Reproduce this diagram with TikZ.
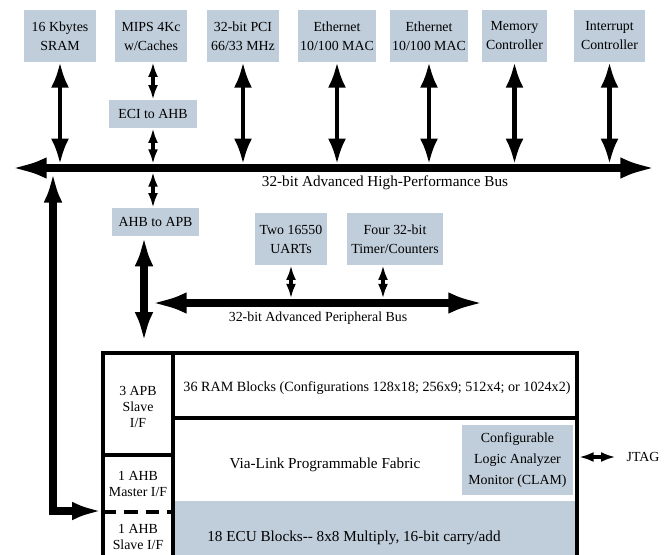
\documentclass[tikz,border=0pt]{standalone}
\usepackage{fontspec}
\setmainfont{Liberation Serif}
\usetikzlibrary{positioning,arrows.meta}
\definecolor{boxgray}{RGB}{192,205,218}

\begin{document}
\begin{tikzpicture}[x=0.75pt,y=-0.75pt,
  blk/.style={fill=boxgray,inner sep=0pt,align=center,font=\fontsize{10.4}{14.25}\selectfont},
  lbl/.style={inner sep=0pt,align=center,font=\fontsize{10.4}{12}\selectfont},
  biglbl/.style={inner sep=0pt,font=\fontsize{11.4}{13}\selectfont},
  busline/.style={line width=6.4pt,{Latex[length=27.5pt,width=16pt]}-{Latex[length=27.5pt,width=16pt]}},
  droparr/.style={line width=5.6pt,{Latex[length=22.5pt,width=14pt]}-{Latex[length=22.5pt,width=14pt]}},
  midarr/.style={line width=3.2pt,{Latex[length=19pt,width=13.5pt]}-{Latex[length=19pt,width=13.5pt]}},
  smallarr/.style={line width=2.3pt,{Latex[length=11pt,width=7.5pt]}-{Latex[length=11pt,width=7.5pt]}}]
  \clip (0,0) rectangle (671,554);
  \def\bh{39pt}
  % top row of blocks
  \node[blk,minimum width=54pt,minimum height=\bh] (sram) at (60,36) {16 Kbytes\\SRAM};
  \node[blk,minimum width=54pt,minimum height=\bh] (mips) at (151,36) {MIPS 4Kc\\w/Caches};
  \node[blk,minimum width=54pt,minimum height=\bh] (pci) at (243,36) {32-bit PCI\\66/33 MHz};
  \node[blk,minimum width=59pt,minimum height=\bh] (eth1) at (337,36) {Ethernet\\10/100 MAC};
  \node[blk,minimum width=59pt,minimum height=\bh] (eth2) at (429,36) {Ethernet\\10/100 MAC};
  \node[blk,minimum width=48.75pt,minimum height=\bh] (memc) at (514.5,36) {Memory\\Controller};
  \node[blk,minimum width=53.25pt,minimum height=\bh] (intc) at (609.5,36) {Interrupt\\Controller};
  \node[blk,minimum width=66pt,minimum height=21pt] (eci) at (153,114) {ECI to AHB};
  \node[blk,minimum width=65.25pt,minimum height=21pt] (a2p) at (155.5,222) {AHB to APB};
  \node[blk,minimum width=54pt,minimum height=\bh] (uart) at (291,239) {Two 16550\\UARTs};
  \node[blk,minimum width=72pt,minimum height=\bh] (timer) at (395,239) {Four 32-bit\\Timer/Counters};

  % AHB
  \coordinate (ahbL) at (10,168); \coordinate (ahbR) at (657,168);
  \coordinate (ahbT) at (0,164); \coordinate (ahbB) at (0,172);
  \draw[busline] (ahbL) -- (ahbR);
  \node[biglbl] (ahblbl) at (385,183) {32-bit Advanced High-Performance Bus};
  \foreach \n in {sram,pci,eth1,eth2,memc,intc}
    \draw[midarr] (\n.south) -- (\n.south |- ahbT);
  \draw[smallarr] (mips.south -| eci) -- (eci.north);
  \draw[smallarr] (eci.south) -- (eci.south |- ahbT);
  \draw[smallarr] (eci.south |- ahbB) -- (eci.south |- a2p.north);

  % APB
  \coordinate (apbL) at (150,303); \coordinate (apbR) at (485,303);
  \coordinate (apbT) at (0,298.5); \coordinate (tmrx) at (383,0);
  \draw[busline] (apbL) -- (apbR);
  \node[lbl] (apblbl) at (318,318) {32-bit Advanced Peripheral Bus};
  \draw[smallarr] (uart.south) -- (uart.south |- apbT);
  \draw[smallarr] (timer.south -| tmrx) -- (tmrx |- apbT);
  \coordinate (apbin) at (144,342);
  \draw[droparr] (a2p.south -| apbin) -- (apbin);

  % FPGA block
  \fill[boxgray] (173,501) rectangle (577,560);
  \draw[line width=2.5pt] (173,353) -- (173,560);
  \draw[line width=2.5pt] (103,455) -- (173,455);
  \draw[line width=2.5pt] (173,418) -- (577,418);
  \draw[line width=2.5pt,dash pattern=on 10pt off 6pt] (103,512) -- (173,512);
  \draw[line width=3pt] (103,560) -- (103,353) -- (577,353) -- (577,560);
  \node[blk,font=\fontsize{10.4}{16}\selectfont,minimum width=83.25pt,minimum height=52.5pt] (clam) at (517.5,460) {Configurable\\Logic Analyzer\\Monitor (CLAM)};
  \node[lbl] (apbif) at (138,407) {3 APB\\Slave\\I/F};
  \node[lbl] (ahbm) at (138,484) {1 AHB\\Master I/F};
  \node[lbl] (ahbs) at (138,537) {1 AHB\\Slave I/F};
  \node[lbl,font=\fontsize{10.6}{12}\selectfont] (ram) at (377,388) {36 RAM Blocks (Configurations 128x18; 256x9; 512x4; or 1024x2)};
  \node[biglbl] (fabric) at (325,465) {Via-Link Programmable Fabric};
  \node[biglbl] (ecu) at (354,538) {18 ECU Blocks-{}- 8x8 Multiply, 16-bit carry/add};

  % JTAG and AHB master link
  \coordinate (blkE) at (579,457);
  \node[lbl,inner xsep=8pt] (jtag) at (643,457) {JTAG};
  \draw[smallarr] (blkE) -- (jtag.west);
  \coordinate (lTop) at (53,172.5); \coordinate (lEnd) at (102,511);
  \draw[droparr] (lTop) -- (lTop |- lEnd) -- (lEnd);
\end{tikzpicture}
\end{document}
